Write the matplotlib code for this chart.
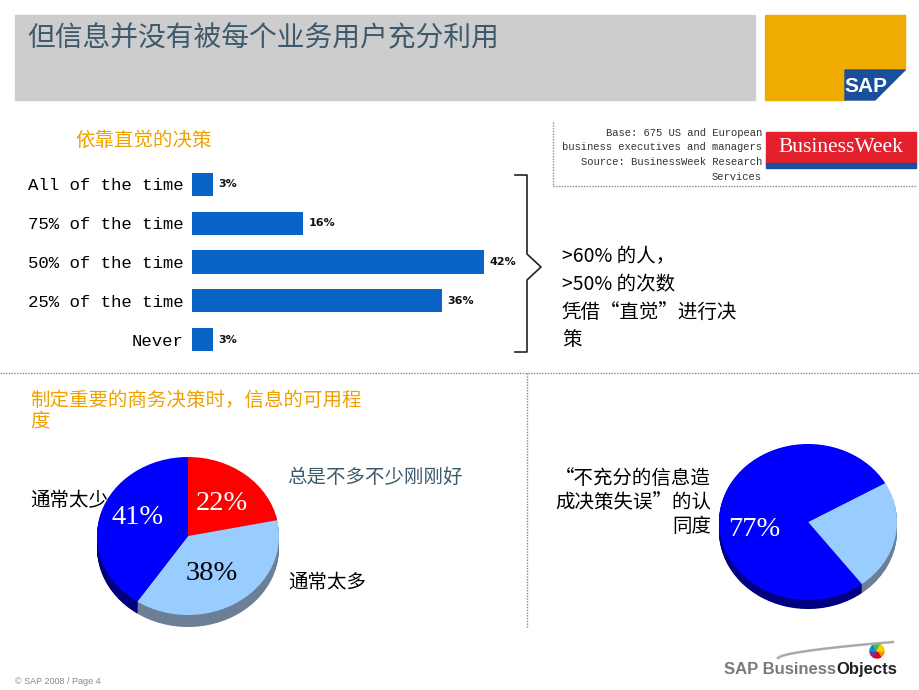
import matplotlib
matplotlib.use("Agg")
import matplotlib.pyplot as plt
from matplotlib.patches import Rectangle, Polygon, Wedge
import numpy as np

W, H = 920, 690

# --- data -------------------------------------------------------------
freq_labels = ["All of the time", "75% of the time", "50% of the time",
               "25% of the time", "Never"]
freq_values = [3, 16, 42, 36, 3]

info_labels = ["总是不多不少刚刚好", "通常太多", "通常太少"]
info_values = [22, 38, 41]

agree_labels = ["不认同", "认同"]
agree_values = [23, 77]

source_lines = ["Base: 675 US and European", "business executives and managers",
                "Source: BusinessWeek Research", "Services"]
callout_lines = [">60% 的人，", ">50% 的次数", "凭借“直觉”进行决", "策"]
agree_text = ["“不充分的信息造", "成决策失误”的认", "同度"]

CJK = ["Noto Sans CJK SC", "DejaVu Sans"]
plt.rcParams["font.family"] = CJK
ORANGE = "#f0a000"
SLATE = "#3d5a6c"
DOT = (0, (1, 1))

fig = plt.figure(figsize=(W / 100, H / 100), dpi=100)
# pixel-space overlay, drawn above the chart axes
bg = fig.add_axes([0, 0, 1, 1])
bg.set_xlim(0, W)
bg.set_ylim(H, 0)
bg.axis("off")
bg.set_zorder(10)


def px_axes(x0, y0, x1, y1):
    """Axes placed by pixel box (top-left origin)."""
    a = fig.add_axes([x0 / W, 1 - y1 / H, (x1 - x0) / W, (y1 - y0) / H])
    a.patch.set_visible(False)
    return a


# --- header -------------------------------------------------------------
bg.add_patch(Rectangle((15, 15), 740, 85, color="#cdcdcd"))
bg.text(27, 38, "但信息并没有被每个业务用户充分利用", fontsize=20, color=SLATE, va="center")
bg.add_patch(Polygon([(765, 15), (905, 15), (905, 70), (845, 70), (845, 100), (765, 100)],
                     color="#f0ab00"))
bg.add_patch(Polygon([(845, 70), (905, 70), (875, 100), (845, 100)], color="#1a4f9c"))
bg.text(866, 86, "SAP", color="white", fontsize=15, fontweight="bold",
        family="Liberation Sans", ha="center", va="center")

# --- separators ---------------------------------------------------------
bg.plot([0, 920], [373, 373], ls=DOT, color="#8a8a8a", lw=1)
bg.plot([527, 527], [373, 628], ls=DOT, color="#8a8a8a", lw=1)
bg.plot([553, 553, 917], [122, 186, 186], ls=DOT, color="#8a8a8a", lw=1)

# --- bar chart ----------------------------------------------------------
bg.text(75, 140, "依靠直觉的决策", fontsize=14, color=ORANGE, va="center")

ax = px_axes(192, 165, 530, 359)
y = np.arange(len(freq_values))
ax.barh(y, freq_values, height=0.6, color="#0a64c8")
ax.set_xlim(0, 338 / 6.95)
ax.set_ylim(len(freq_values) - 0.5, -0.5)
ax.set_yticks(y, freq_labels, fontfamily="Liberation Mono", fontsize=12.5)
ax.tick_params(axis="y", length=0, pad=6)
ax.set_xticks([])
for s in ax.spines.values():
    s.set_visible(False)
for yi, v in zip(y, freq_values):
    ax.text(v + 0.8, yi, f"{v}%", va="center", fontsize=8, fontweight="bold",
            family="DejaVu Sans", color="#111111")

bg.plot([515, 527, 527, 541, 527, 527, 515], [175, 175, 254, 267, 280, 352, 352],
        color="#222222", lw=1.2)
for i, line in enumerate(callout_lines):
    bg.text(562, 257 + i * 27.5, line, fontsize=14, fontweight="medium", va="center")

# --- source box ---------------------------------------------------------
for i, line in enumerate(source_lines):
    bg.text(762, 133 + i * 14.5, line, fontsize=7.6, family="Liberation Mono",
            color="#333333", ha="right", va="center")
bg.add_patch(Rectangle((766, 132), 150, 32, color="#e4202c"))
bg.add_patch(Rectangle((766, 163), 150, 5, color="#1a4f9c"))
bg.text(841, 148, "BusinessWeek", color="white", fontsize=15.5, family="Liberation Serif",
        ha="center", va="center")


# --- pies ---------------------------------------------------------------
def pie3d(cx, cy, rx, ry, depth_px, values, colors, side_colors, startangle):
    depth = depth_px / ry
    pa = px_axes(cx - 1.05 * rx, cy - 1.05 * ry, cx + 1.05 * rx, cy + (1.05 + depth) * ry)
    n = 16
    for k in range(n, 0, -1):
        pa.pie(values, colors=side_colors, startangle=startangle, counterclock=False,
               center=(0, -depth * k / n), wedgeprops=dict(linewidth=0))
    pa.pie(values, colors=colors, startangle=startangle, counterclock=False,
           wedgeprops=dict(linewidth=0))
    pa.set_aspect("auto")
    pa.set_xlim(-1.05, 1.05)
    pa.set_ylim(-1.05 - depth, 1.05)
    return pa


bg.text(30, 400, "制定重要的商务决策时，信息的可用程", fontsize=14, color=ORANGE, va="center")
bg.text(30, 421, "度", fontsize=14, color=ORANGE, va="center")

pie3d(188, 536, 91, 79, 12, info_values,
      ["#ff0000", "#99ccff", "#0000ff"], ["#a00000", "#6d7f96", "#00007a"], 90)
PCT = dict(family="Liberation Serif", fontsize=20.5, ha="center", va="center")
bg.text(222, 504, f"{info_values[0]}%", color="white", **PCT)
bg.text(212, 573, f"{info_values[1]}%", color="black", **PCT)
bg.text(138, 518, f"{info_values[2]}%", color="white", **PCT)
bg.text(287, 477, info_labels[0], fontsize=14, color=SLATE, va="center")
bg.text(288, 583, info_labels[1], fontsize=14, va="center")
bg.text(30, 500, info_labels[2], fontsize=14, va="center")

pie3d(808, 522, 89, 78, 9, agree_values,
      ["#99ccff", "#0000ff"], ["#6d7f96", "#000080"], 30)
bg.text(754, 529, f"{agree_values[1]}%", color="white", **PCT)
for i, line in enumerate(agree_text):
    bg.text(711, 478 + i * 24.5, line, fontsize=14, ha="right", va="center")

# --- footer -------------------------------------------------------------
bg.text(15, 681, "© SAP 2008 / Page 4", fontsize=6.5, color="#888888",
        family="Liberation Sans", va="center")
t1 = bg.text(724, 674, "SAP Business", fontsize=12, fontweight="bold", color="#7a7a7a",
             family="Liberation Sans", va="baseline")
bg.annotate("Objects", xy=(1, 0), xycoords=t1, fontsize=12, fontweight="bold",
            color="#222222", family="Liberation Sans", va="bottom")
sx = np.linspace(778, 893, 40)
bg.plot(sx, 658 - 16 * ((sx - 778) / 115) ** 0.6, color="#aaaaaa", lw=1.8)
for k, c in enumerate(["#f29400", "#e2001a", "#7b2d8e", "#0093d3", "#4cb848", "#f4d000"]):
    bg.add_patch(Wedge((877, 651), 7, k * 60, (k + 1) * 60, color=c))

fig.savefig("out.png", dpi=100)
